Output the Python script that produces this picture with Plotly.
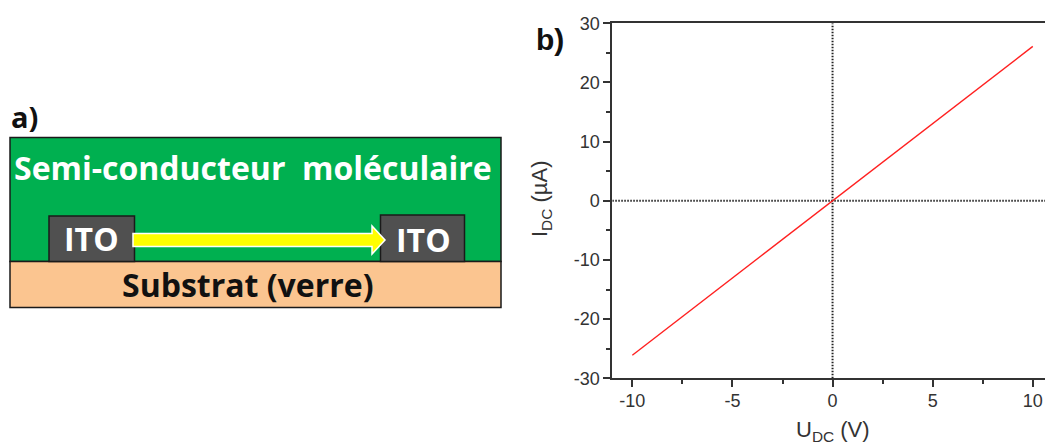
import plotly.graph_objects as go

# Panel b data
u_dc = [-10, -5, 0, 5, 10]
i_dc = [-26.1, -13.05, 0, 13.05, 26.1]
x_ticks = [-10, -5, 0, 5, 10]
x_labels = ["-10", "-5", "0", "5", "10"]
y_ticks = [-30, -20, -10, 0, 10, 20, 30]
y_labels = ["-30", "-20", "-10", "0", "10", "20", "30"]
x_minor = [-7.5, -2.5, 2.5, 7.5]
y_minor = [-25, -15, -5, 5, 15, 25]

# Panel a diagram boxes
W, H = 1045, 446
semi_box = [10, 137.5, 501, 261.5]
substrate_box = [10, 261.5, 501, 307.5]
ito_left_box = [49, 216, 134.5, 261.5]
ito_right_box = [380.5, 215, 464.5, 261.5]
arrow_x = [133, 372, 372, 385, 372, 372, 133]
arrow_y = [233.5, 233.5, 226, 240, 254, 246.5, 246.5]

AX = "#333333"
DOT = "#222222"
fig = go.Figure()

fig.add_trace(go.Scatter(x=[-11, 11], y=[0, 0], mode="lines", showlegend=False, hoverinfo="skip",
                         line=dict(color=DOT, width=2, dash="1.5px,1.5px")))
fig.add_trace(go.Scatter(x=[0, 0], y=[-30, 30], mode="lines", showlegend=False, hoverinfo="skip",
                         line=dict(color=DOT, width=2, dash="1.5px,1.5px")))
fig.add_trace(go.Scatter(x=u_dc, y=i_dc, mode="lines", showlegend=False,
                         line=dict(color="#ff2020", width=1.4)))


def px(x):
    return x / W


def py(y):
    return 1 - y / H


def rect(box, fill, line="#1a1a1a"):
    return dict(type="rect", xref="paper", yref="paper", x0=px(box[0]), y0=py(box[1]),
                x1=px(box[2]), y1=py(box[3]), fillcolor=fill,
                line=dict(color=line, width=1.5), layer="above")


path = "M " + " L ".join(f"{px(a)},{py(b)}" for a, b in zip(arrow_x, arrow_y)) + " Z"
shapes = [
    rect(semi_box, "#00b050"),
    rect(substrate_box, "#fbc590"),
    rect(ito_left_box, "#505050"),
    rect(ito_right_box, "#505050"),
    dict(type="path", xref="paper", yref="paper", path=path, fillcolor="#ffff00",
         line=dict(color="#ffffff", width=1.5), layer="above"),
]


def label(text, x, y, size, color, family="Open Sans", bold=True, angle=0):
    return dict(text=f"<b>{text}</b>" if bold else text, x=px(x), y=py(y), xref="paper", yref="paper",
                showarrow=False, xanchor="center", yanchor="middle", textangle=angle,
                font=dict(family=family, size=size, color=color))


annotations = [
    label("a)", 24, 117, 29, "#111111"),
    label("Semi-conducteur&nbsp;&nbsp;moléculaire", 253, 167, 32, "#ffffff"),
    label("ITO", 91, 238, 32, "#ffffff"),
    label("ITO", 423, 239, 32, "#ffffff"),
    label("Substrat (verre)", 248, 284, 32, "#111111"),
    label("b)", 550, 39, 30, "#111111", family="Liberation Sans"),
    label("U<sub>DC</sub> (V)", 833, 431, 22, AX, family="Liberation Sans", bold=False),
    label("I<sub>DC</sub> (µA)", 541, 199, 22, AX, family="Liberation Sans", bold=False, angle=-90),
]

fig.update_layout(
    width=W, height=H, margin=dict(l=0, r=0, t=0, b=0), autosize=False,
    paper_bgcolor="white", plot_bgcolor="white", showlegend=False,
    shapes=shapes, annotations=annotations,
    font=dict(family="Liberation Sans", color=AX),
    xaxis=dict(domain=[612.3 / W, 1], range=[-11, 10.61], tickmode="array", tickvals=x_ticks,
               ticktext=x_labels, automargin=False, ticklabelstandoff=-2,
               ticks="outside", ticklen=7, tickwidth=1.5, tickcolor=AX, linecolor=AX, linewidth=2,
               mirror=True, showgrid=False, zeroline=False, tickfont=dict(size=18),
               minor=dict(tickmode="array", tickvals=x_minor, ticks="outside", ticklen=4,
                          tickwidth=1.5, tickcolor=AX, showgrid=False)),
    yaxis=dict(domain=[1 - 378.3 / H, 1 - 23.3 / H], range=[-30, 30], tickmode="array", tickvals=y_ticks,
               ticktext=y_labels, automargin=False,
               ticks="outside", ticklen=7, tickwidth=1.5, tickcolor=AX, linecolor=AX, linewidth=2,
               showgrid=False, zeroline=False, tickfont=dict(size=18),
               minor=dict(tickmode="array", tickvals=y_minor, ticks="outside", ticklen=4,
                          tickwidth=1.5, tickcolor=AX, showgrid=False)),
)

fig.write_html("out.html", config=dict(displayModeBar=False),
               post_script="document.body.style.margin='0';document.body.style.overflow='hidden';")
